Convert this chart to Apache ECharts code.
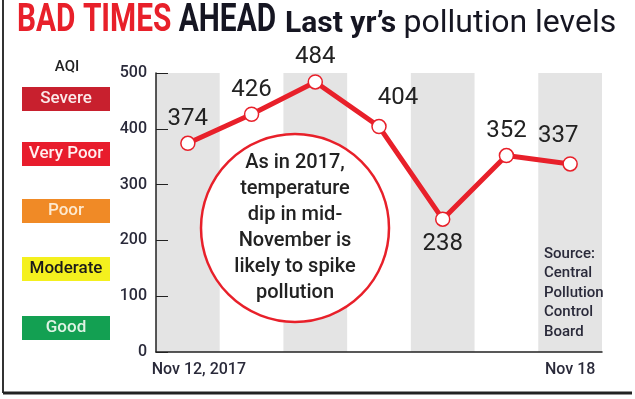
<!DOCTYPE html>
<html>
<head>
<meta charset="utf-8">
<script src="https://cdn.jsdelivr.net/npm/echarts@6/dist/echarts.min.js"></script>
<style>
    html, body { margin: 0; padding: 0; background: #fff; }
    #chart { width: 635px; height: 399px; }
</style>
</head>
<body>
<div id="chart"></div>
<script>
    // data
    const days = ['Nov 12', 'Nov 13', 'Nov 14', 'Nov 15', 'Nov 16', 'Nov 17', 'Nov 18']
    const aqi = [374, 426, 484, 404, 238, 352, 337]
    const tickLabels = ['Nov 12, 2017', '', '', '', '', '', 'Nov 18']
    const yTicks = [0, 100, 200, 300, 400, 500]

    const aqiNames = ['Severe', 'Very Poor', 'Poor', 'Moderate', 'Good']
    const aqiColors = ['#c8202e', '#e81c2c', '#f08a26', '#f4f01e', '#13a052']
    const aqiText = ['#fbe9e9', '#fff0f0', '#fde9cf', '#1b1b1b', '#dff3e4']

    const red = '#e8202a'
    const font = 'Roboto, "Liberation Sans", sans-serif'

    // a few labels sit off-centre in the original
    const labelTweak = {
        3: {offset: [19, -4]},
        4: {position: 'bottom'},
        6: {offset: [-12, -3]}
    }

    const seriesData = aqi.map(function (v, i) {
        const item = {value: v}
        if (labelTweak[i]) item.label = labelTweak[i]
        return item
    })

    // left side AQI key
    const keyBoxes = aqiNames.map(function (name, i) {
        const tops = [87, 142, 199, 257, 316]
        return {
            type: 'rect',
            shape: {x: 22, y: tops[i], width: 88, height: 24},
            style: {fill: aqiColors[i]},
            textContent: {
                style: {text: name, fill: aqiText[i], font: '500 17px ' + font}
            },
            textConfig: {position: 'inside'}
        }
    })

    const chart = echarts.init(document.getElementById('chart'))
    chart.setOption({
        animation: false,
        grid: {left: 156, right: 33, top: 73, bottom: 47},
        xAxis: {
            type: 'category',
            data: days,
            boundaryGap: true,
            axisLine: {lineStyle: {color: '#222', width: 1.5}},
            axisTick: {inside: true, length: 6, interval: 0, lineStyle: {color: '#222'}},
            axisLabel: {
                interval: 0,
                margin: 10,
                color: '#2a2a3a',
                fontFamily: font,
                fontWeight: 500,
                fontSize: 16,
                formatter: function (v, i) {
                    if (i === 0) return '{a|' + tickLabels[i] + '}'
                    return tickLabels[i]
                },
                rich: {a: {padding: [0, 0, 0, 22], fontSize: 16, fontWeight: 500, color: '#2a2a3a', fontFamily: font}}
            },
            splitArea: {show: true, interval: 0, areaStyle: {color: ['#e4e4e4', 'rgba(0,0,0,0)']}},
            splitLine: {show: false}
        },
        yAxis: {
            type: 'value',
            min: yTicks[0],
            max: yTicks[yTicks.length - 1],
            interval: 100,
            axisLine: {show: true, lineStyle: {color: '#222', width: 1.5}},
            axisTick: {show: true, inside: true, length: 12, lineStyle: {color: '#222'}},
            axisLabel: {color: '#2a2a3a', fontFamily: font, fontWeight: 500, fontSize: 16, margin: 9},
            splitLine: {show: false}
        },
        series: [{
            type: 'line',
            data: seriesData,
            symbol: 'circle',
            symbolSize: 14,
            z: 5,
            lineStyle: {color: red, width: 5},
            itemStyle: {color: '#fff', borderColor: red, borderWidth: 1.5},
            label: {
                show: true,
                position: 'top',
                distance: 5,
                color: '#222',
                fontFamily: font,
                fontSize: 24
            }
        }],
        graphic: [
            // frame
            {type: 'line', shape: {x1: 3, y1: 0, x2: 3, y2: 393}, style: {stroke: '#333', lineWidth: 2}},
            {type: 'line', shape: {x1: 3, y1: 393, x2: 632, y2: 393}, style: {stroke: '#222', lineWidth: 3}},
            // title
            {
                type: 'text', x: 17, y: 2, scaleX: 0.785,
                style: {
                    text: '{r|BAD TIMES }{k|AHEAD}',
                    rich: {
                        r: {fill: red, font: 'bold 38px ' + font},
                        k: {fill: '#161622', font: 'bold 38px ' + font}
                    }
                }
            },
            {
                type: 'text', x: 285, y: 8,
                style: {
                    text: '{b|Last yr\u2019s }{n|pollution levels}',
                    rich: {
                        b: {fill: '#161622', font: 'bold 30px ' + font},
                        n: {fill: '#161622', font: '32px ' + font}
                    }
                }
            },
            {type: 'text', x: 67, y: 60, style: {text: 'AQI', fill: '#222', font: '500 15px ' + font, align: 'center'}},
            ...keyBoxes,
            // note bubble
            {
                type: 'circle', z: 3,
                shape: {cx: 295, cy: 228, r: 94},
                style: {fill: '#fff', stroke: red, lineWidth: 2.5}
            },
            {
                type: 'text', z: 4, x: 295, y: 228,
                style: {
                    text: 'As in 2017,\ntemperature\ndip in mid-\nNovember is\nlikely to spike\npollution',
                    fill: '#222',
                    font: '500 20px ' + font,
                    lineHeight: 26,
                    align: 'center',
                    verticalAlign: 'middle'
                }
            },
            {
                type: 'text', z: 4, x: 544, y: 244,
                style: {
                    text: 'Source:\nCentral\nPollution\nControl\nBoard',
                    fill: '#2a2a3a',
                    font: '500 15px ' + font,
                    lineHeight: 19.5
                }
            }
        ]
    })
</script>
</body>
</html>
